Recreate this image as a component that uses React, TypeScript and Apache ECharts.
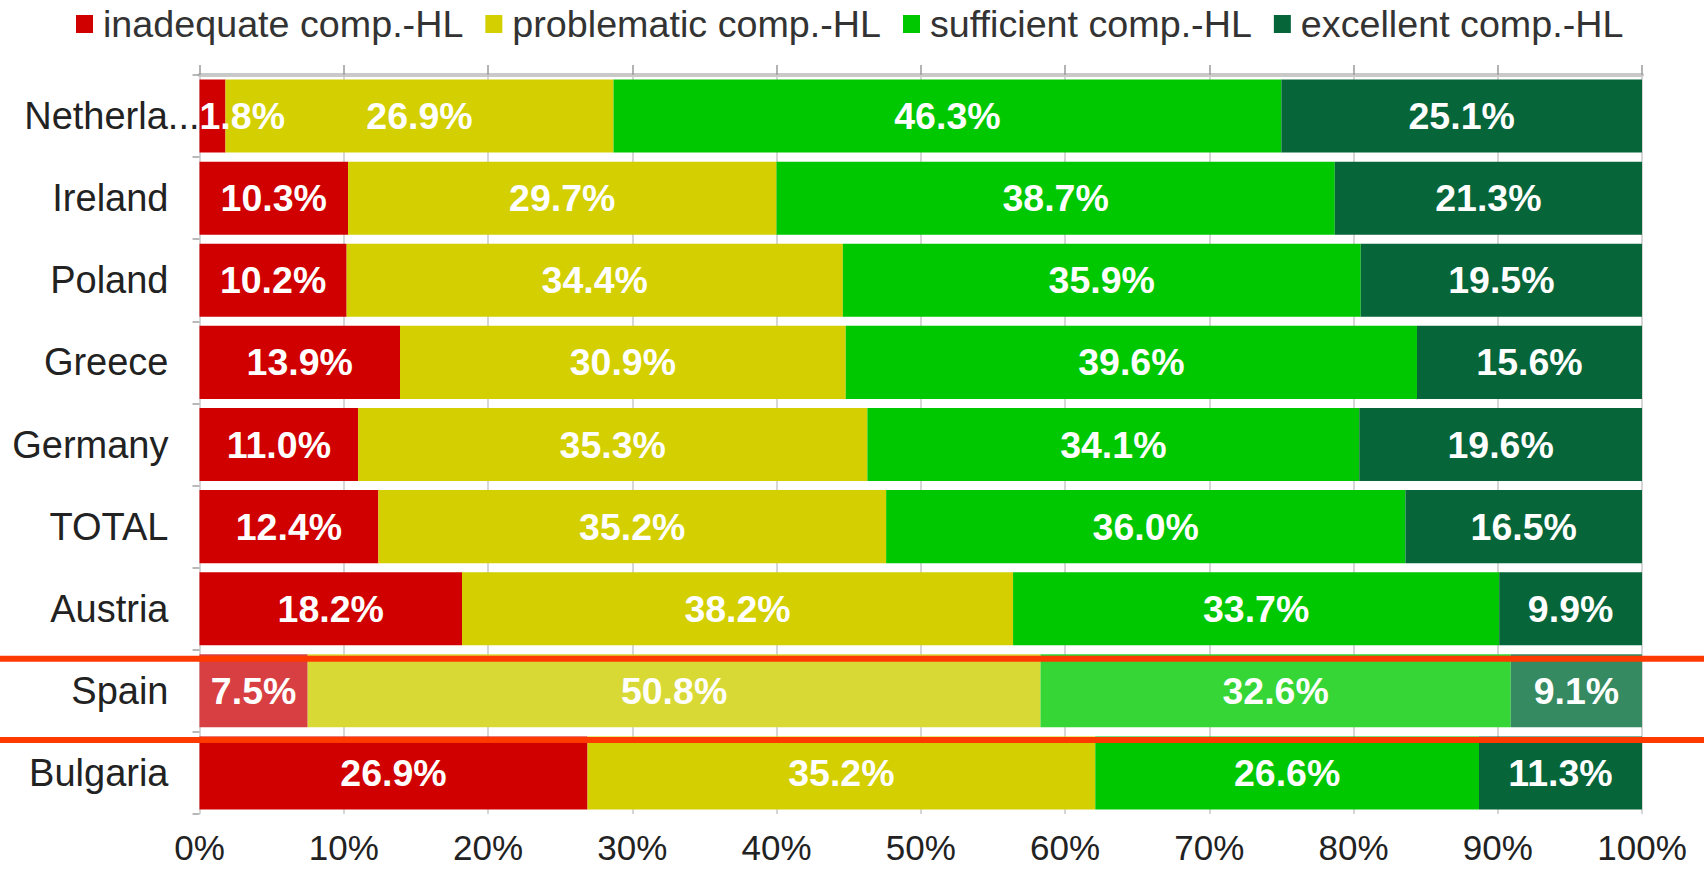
import React, { useEffect, useRef } from "react";
import * as echarts from "echarts";

const categories = ["Netherlands", "Ireland", "Poland", "Greece", "Germany", "TOTAL", "Austria", "Spain", "Bulgaria"];
const seriesNames = ["inadequate comp.-HL", "problematic comp.-HL", "sufficient comp.-HL", "excellent comp.-HL"];
const inadequate = [1.8, 10.3, 10.2, 13.9, 11.0, 12.4, 18.2, 7.5, 26.9];
const problematic = [26.9, 29.7, 34.4, 30.9, 35.3, 35.2, 38.2, 50.8, 35.2];
const sufficient = [46.3, 38.7, 35.9, 39.6, 34.1, 36.0, 33.7, 32.6, 26.6];
const excellent = [25.1, 21.3, 19.5, 15.6, 19.6, 16.5, 9.9, 9.1, 11.3];
const seriesValues = [inadequate, problematic, sufficient, excellent];
const colors = ["#d00000", "#d3cf00", "#00c800", "#07653a"];
const highlightColors = ["#d83f42", "#d9d935", "#35d635", "#358a62"];
const highlightCategory = "Spain";

const FONT = "'Liberation Sans', Arial, Helvetica, sans-serif";

export default function App() {
  const ref = useRef<HTMLDivElement>(null);
  useEffect(() => {
    if (!ref.current) return;
    const chart = echarts.init(ref.current, undefined, { renderer: "svg" });
    const hIdx = categories.indexOf(highlightCategory);
    const series = seriesValues.map((vals, si) => ({
      name: seriesNames[si],
      type: "bar",
      stack: "total",
      barCategoryGap: "11%",
      itemStyle: { color: colors[si] },
      label: {
        show: true,
        position: "inside",
        color: "#ffffff",
        fontFamily: FONT,
        fontWeight: "bold",
        fontSize: 37.5,
        formatter: (p: any) => Number(p.value).toFixed(1) + "%",
      },
      data: vals.map((v, ci) => {
        const item: any = { value: v };
        if (ci === hIdx) item.itemStyle = { color: highlightColors[si] };
        if (v < 5) item.label = { position: "insideLeft", distance: 0 };
        return item;
      }),
    }));
    chart.setOption({
      animation: false,
      backgroundColor: "#ffffff",
      legend: {
        left: 71,
        top: 0,
        icon: "rect",
        itemWidth: 17,
        itemHeight: 18,
        itemGap: 22,
        textStyle: { fontFamily: FONT, fontSize: 37.7, color: "#333333", padding: [0, 0, 0, 5] },
        data: seriesNames,
      },
      grid: { left: 199.5, right: 62, top: 75, bottom: 64, containLabel: false },
      xAxis: [
        {
          type: "value",
          min: 0,
          max: 100,
          interval: 10,
          position: "bottom",
          axisLine: { show: false },
          axisTick: { show: false },
          splitLine: { show: true, lineStyle: { color: "#c8c8c8", width: 1.5 } },
          axisLabel: {
            margin: 16,
            fontFamily: FONT,
            fontSize: 35,
            color: "#222222",
            formatter: "{value}%",
          },
        },
        {
          type: "value",
          min: 0,
          max: 100,
          interval: 10,
          position: "top",
          axisLine: { show: true, lineStyle: { color: "#c9c9c9", width: 4 } },
          axisTick: { show: true, length: 10, lineStyle: { color: "#9a9a9a", width: 1.5 } },
          axisLabel: { show: false },
          splitLine: { show: false },
        },
      ],
      yAxis: {
        type: "category",
        inverse: true,
        data: categories.map((c, i) =>
          i === 0 ? { value: c, textStyle: { padding: [0, -31, 0, 0] } } : c
        ),
        axisLine: { show: false },
        axisTick: { show: true, length: 7, lineStyle: { color: "#a0a0a0", width: 1.5 } },
        axisLabel: {
          margin: 31,
          fontFamily: FONT,
          fontSize: 38,
          color: "#222222",
          width: 184,
          overflow: "truncate",
          ellipsis: "...",
        },
      },
      series,
    });

    const yPrev = chart.convertToPixel({ yAxisIndex: 0 }, categories[hIdx - 1]) as number;
    const yCur = chart.convertToPixel({ yAxisIndex: 0 }, categories[hIdx]) as number;
    const yNext = chart.convertToPixel({ yAxisIndex: 0 }, categories[hIdx + 1]) as number;
    const topY = (yPrev + yCur) / 2 + 9;
    const botY = (yCur + yNext) / 2 + 8;
    chart.setOption({
      graphic: [
        { type: "line", shape: { x1: 0, y1: topY, x2: 1704, y2: topY }, style: { stroke: "#ff3a00", lineWidth: 6 }, z: 100 },
        { type: "line", shape: { x1: 0, y1: botY, x2: 1704, y2: botY }, style: { stroke: "#ff3a00", lineWidth: 6 }, z: 100 },
      ],
    });
    return () => chart.dispose();
  }, []);
  return <div ref={ref} style={{ position: "fixed", left: 0, top: 0, width: 1704, height: 878 }} />;
}
